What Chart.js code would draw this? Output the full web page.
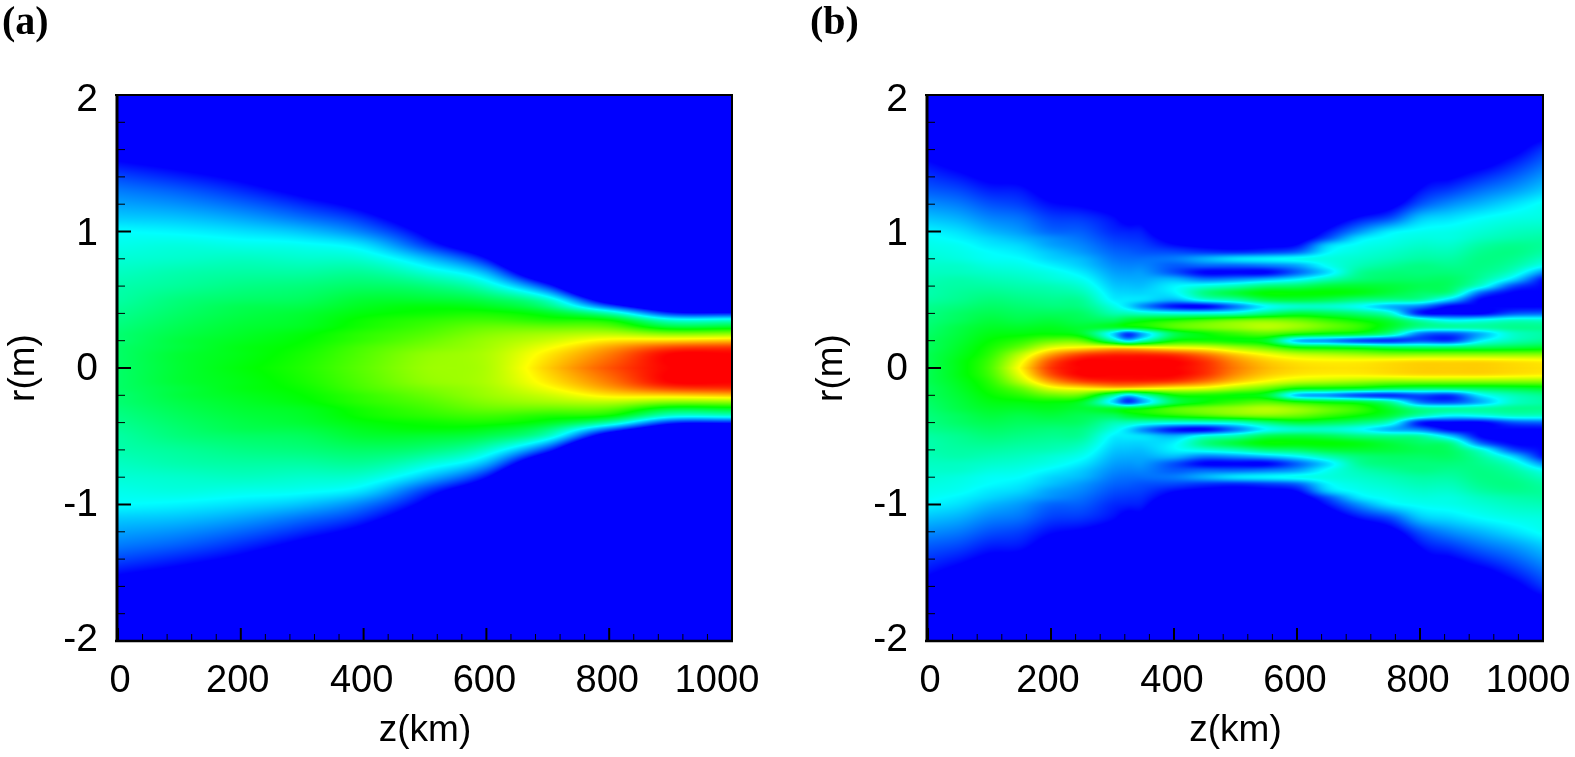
<!DOCTYPE html>
<html>
<head>
<meta charset="utf-8">
<script src="https://cdn.jsdelivr.net/npm/chart.js@4"></script>
<style>
html,body{margin:0;padding:0;background:#fff;width:1575px;height:757px;overflow:hidden}
.p{position:absolute;top:0;height:757px}
</style>
</head>
<body>
<div class="p" style="left:0;width:787px"><canvas id="ca" width="787" height="757"></canvas></div>
<div class="p" style="left:808px;width:767px"><canvas id="cb" width="767" height="757"></canvas></div>
<script>
// ---- axis ticks ----
const xTicks = [0,200,400,600,800,1000];
const yTicks = [-2,-1,0,1,2];
const xMinor = [40,80,120,160,240,280,320,360,440,480,520,560,640,680,720,760,840,880,920,960];
const yMinor = [-1.8,-1.6,-1.4,-1.2,-0.8,-0.6,-0.4,-0.2,0.2,0.4,0.6,0.8,1.2,1.4,1.6,1.8];

// ---- colour stops of the scale (value, r, g, b) ----
const colorStops = [[0,0,0,255],[25,0,255,255],[50,0,255,0],[75,255,255,0],[100,255,0,0]];

// ---- panel (a): level; one list per z, entries follow rRowsA.
// Entries below 0 lie past the visible edge and all show as full blue; missing entries are far past it.
const zColsA = [0,100,200,300,400,500,600,700,800,900,1000];
const rRowsA = [0,.1,.15,.2,.25,.3,.35,.4,.45,.5,.6,.7,.8,.9,1,1.1,1.2,1.3,1.4,1.5,1.6];
const valuesA = [
 [40,40,40,39,39,38,37,36,35,34,33,31,29,27,25,20,16,12,7,1,-5],
 [45,45,44,44,43,42,41,40,39,38,35,33,30,28,24,19,14,9,3,-3,-9],
 [49,48,48,47,46,45,44,43,42,40,37,34,31,27,22,16,10,4,-2,-8,-14],
 [53,52,51,50,49,47,46,45,43,41,38,34,30,26,19,11,4,-3,-10,-17,-24],
 [59,58,57,55,54,52,51,49,47,45,40,35,29,22,12,4,-4,-12,-20,-28,-36],
 [65,64,62,60,58,56,54,51,49,45,38,29,19,6,-3,-12,-21,-30,-39],
 [67,67,66,65,63,60,56,52,47,42,30,17,1,-14,-29],
 [80,77,74,70,66,60,53,47,38,30,5,-20],
 [92,88,84,77,68,59,50,33,10,-10,-40],
 [100,100,93,79,63,45,29,5,-15,-35],
 [100,100,95,81,64,46,29,3,-17,-37]
];

// ---- panel (b) ----
const zColsB = [0,50,100,150,200,250,300,325,350,400,450,500,550,600,650,700,750,800,850,900,950,1000];
const rRowsB = [0,.05,.1,.15,.2,.25,.3,.35,.4,.45,.5,.55,.6,.65,.7,.75,.8,.85,.9,.95,1,1.1,1.2,1.3,1.4,1.5,1.6,1.7];
const valuesB = [
 [42,42,42,41,41,40,39,38,37,36,34,33,33,32,31,30,29,28,27,26,24,19,14,9,5,1,-4,-9],
 [48,48,47,46,45,44,43,41,40,38,36,35,34,33,31,30,28,27,26,24,22,17,12,7,2,-3,-8,-13],
 [57,56,54,52,50,48,46,44,42,40,38,36,34,32,30,28,26,25,23,21,18,13,8,3,-2,-7,-12,-17],
 [76,73,68,60,54,49,46,43,41,39,37,35,33,31,29,27,25,23,21,18,15,11,6,2,-3,-8,-13,-18],
 [95,92,84,72,60,50,47,44,41,38,36,34,32,29,27,24,21,19,16,14,10,6,1,-4,-9,-14,-19],
 [100,100,93,76,59,46,45,42,40,37,35,32,29,26,23,20,18,15,13,11,9,5,-1,-6,-11,-16,-21],
 [100,100,96,78,36,22,46,41,33,28,24,22,20,18,16,14,12,10,8,6,4,1,-5,-11,-17,-23],
 [100,100,96,77,22,6,48,45,32,22,23,21,19,17,15,13,11,9,7,5,3,-3,-8,-13,-18],
 [100,100,96,76,32,18,50,48,30,14,22,21,19,17,15,13,11,8,6,4,2,-3,-8,-13,-18],
 [100,100,94,74,50,42,58,52,28,2,18,24,24,18,8,9,12,7,1,-4,-10,-20,-30],
 [96,95,88,72,52,50,62,56,28,0,28,37,28,12,0,10,17,5,-2,-8,-14,-24,-34],
 [88,86,80,66,50,55,65,60,30,12,33,44,32,14,0,10,22,4,-3,-9,-15,-25,-35],
 [82,80,74,60,46,58,68,62,38,25,42,50,38,18,0,12,24,6,-2,-8,-14,-24,-34],
 [79,77,69,50,20,52,65,60,44,30,44,50,40,24,10,16,26,10,1,-5,-10,-20,-30],
 [78,76,67,48,15,48,60,55,42,30,42,50,44,32,22,26,28,24,20,8,2,-8,-18,-28],
 [78,76,65,46,8,45,55,50,38,26,38,48,45,38,35,32,30,28,26,22,14,1,-10,-20],
 [79,77,63,42,5,35,46,44,30,18,36,44,44,40,38,35,32,30,28,26,23,7,-4,-15],
 [80,78,63,40,8,12,36,32,3,12,34,40,42,40,38,37,34,32,30,28,26,19,8,1,-6,-13],
 [80,78,63,40,6,8,34,24,0,0,20,36,40,40,38,36,34,32,30,28,27,22,14,6,-1,-8],
 [80,78,63,42,24,18,34,26,0,0,0,10,28,34,36,37,37,36,34,31,29,25,18,11,4,-3,-10],
 [79,77,63,44,32,30,36,30,8,0,0,0,8,22,30,34,36,37,36,33,31,27,22,15,9,3,-3,-9],
 [78,76,63,46,36,34,36,30,10,0,0,0,0,2,14,26,31,34,35,34,32,28,26,20,15,10,5,-2]
];

// small shifts of the tick labels, in pixels, as placed in the picture
const yLabelNudge = [-1,1,1,3,5];
const xLabelNudge = [2,-3,-2,-2,-2,-15];

function colorOf(v){
  v=Math.max(0,Math.min(100,v));
  for(let i=1;i<colorStops.length;i++){
    const a=colorStops[i-1],b=colorStops[i];
    if(v<=b[0]){const t=(v-a[0])/(b[0]-a[0]);return [a[1]+(b[1]-a[1])*t,a[2]+(b[2]-a[2])*t,a[3]+(b[3]-a[3])*t];}
  }
  return colorStops[4].slice(1);
}
function seg(arr,x){
  let i=0;
  while(i<arr.length-2&&x>arr[i+1])i++;
  return i;
}
// smooth drawing of the read-off table between its nodes (render only)
function herm(xs,fn,i,x){
  const n=xs.length,x0=xs[i],x1=xs[i+1],h=x1-x0;
  const t=Math.max(0,Math.min(1,(x-x0)/h));
  const f0=fn(i),f1=fn(i+1);
  const m0=i>0?(f1-fn(i-1))/(x1-xs[i-1]):(f1-f0)/h;
  const m1=i<n-2?(fn(i+2)-f0)/(xs[i+2]-x0):(f1-f0)/h;
  const t2=t*t,t3=t2*t;
  return (2*t3-3*t2+1)*f0+(t3-2*t2+t)*h*m0+(-2*t3+3*t2)*f1+(t3-t2)*h*m1;
}

const heatPlugin={
  id:'heat',
  beforeDatasetsDraw(chart,args,opts){
    const {ctx,chartArea:ca,scales:{x,y}}=chart;
    const w=Math.round(ca.right-ca.left),h=Math.round(ca.bottom-ca.top);
    const off=document.createElement('canvas');off.width=w;off.height=h;
    const oc=off.getContext('2d'),img=oc.createImageData(w,h);
    const {zs,rs,vals}=opts;
    for(let py=0;py<h;py++){
      const r=Math.abs(y.getValueForPixel(ca.top+py+.5));
      const j=seg(rs,r);
      const col=zs.map((_,i)=>herm(rs,q=>vals[i][q]??-40,j,r));
      for(let px=0;px<w;px++){
        const z=x.getValueForPixel(ca.left+px+.5);
        const v=herm(zs,q=>col[q],seg(zs,z),z);
        const c=colorOf(v),k=(py*w+px)*4;
        img.data[k]=c[0];img.data[k+1]=c[1];img.data[k+2]=c[2];img.data[k+3]=255;
      }
    }
    oc.putImageData(img,0,0);
    ctx.save();
    ctx.filter='blur(0.7px)';
    ctx.drawImage(off,ca.left,ca.top);
    ctx.restore();
  },
  afterDraw(chart){
    const {ctx,chartArea:ca,scales:{x,y}}=chart;
    ctx.save();
    ctx.strokeStyle='#000';
    const line=(a,b,c,d,lw)=>{ctx.lineWidth=lw;ctx.beginPath();ctx.moveTo(a,b);ctx.lineTo(c,d);ctx.stroke();};
    xTicks.forEach(v=>{const p=x.getPixelForValue(v);line(p,ca.bottom,p,ca.bottom-13,2);});
    xMinor.forEach(v=>{const p=x.getPixelForValue(v);line(p,ca.bottom,p,ca.bottom-7,1);});
    yTicks.forEach(v=>{const p=y.getPixelForValue(v);line(ca.left,p,ca.left+13,p,2);});
    yMinor.forEach(v=>{const p=y.getPixelForValue(v);line(ca.left,p,ca.left+7,p,1);});
    line(ca.left-3,ca.top,ca.right+1,ca.top,2);
    line(ca.left-3,ca.bottom,ca.right+1,ca.bottom,2.5);
    line(ca.left-1,ca.top-1,ca.left-1,ca.bottom+1,3);
    line(ca.right,ca.top-1,ca.right,ca.bottom+1,2);
    ctx.restore();
  }
};

function points(zs,rs,vals){
  const out=[];
  zs.forEach((z,i)=>rs.forEach((r,j)=>{
    const v=Math.max(0,vals[i][j]||0);
    out.push({x:z,y:r,v});
    if(r>0)out.push({x:z,y:-r,v});
  }));
  return out;
}

function nudgeLabels(s,dx,dy){
  if(s._nudged)return;
  s._nudged=true;
  const orig=s._computeLabelItems.bind(s);
  s._computeLabelItems=a=>{
    const items=orig(a);
    items.forEach((t,i)=>{const q=t.options.translation;t.options.translation=[q[0]+(dx?dx[i]:0),q[1]+(dy?dy[i]:0)];});
    return items;
  };
}

function make(id,label,zs,rs,vals,leftW,rightPad){
  new Chart(document.getElementById(id),{
    type:'scatter',
    data:{datasets:[{label,data:points(zs,rs,vals),pointRadius:0,pointHoverRadius:0,showLine:false}]},
    plugins:[heatPlugin],
    options:{
      responsive:false,animation:false,events:[],
      layout:{padding:{left:2,top:0,right:rightPad,bottom:0}},
      plugins:{
        legend:{display:false},tooltip:{enabled:false},
        title:{display:true,text:label,align:'start',color:'#000',
          font:{family:'"Liberation Serif"',size:40,weight:'bold',lineHeight:1.1},
          padding:{top:2,bottom:49}},
        heat:{zs,rs,vals}
      },
      scales:{
        x:{type:'linear',min:0,max:1000,
          afterBuildTicks(s){s.ticks=xTicks.map(v=>({value:v}));},
          afterFit(s){s.height=116;s.paddingLeft=0;s.paddingRight=0;nudgeLabels(s,xLabelNudge,null);},
          grid:{display:false},border:{display:false},
          ticks:{color:'#000',maxRotation:0,autoSkip:false,padding:10,callback:v=>String(v),font:{family:'"Liberation Sans"',size:38}},
          title:{display:true,text:'z(km)',color:'#000',padding:{top:0,bottom:4},font:{family:'"Liberation Sans"',size:37}}},
        y:{type:'linear',min:-2,max:2,
          afterBuildTicks(s){s.ticks=yTicks.map(v=>({value:v}));},
          afterFit(s){s.width=leftW;s.paddingTop=0;s.paddingBottom=0;nudgeLabels(s,null,yLabelNudge);},
          grid:{display:false},border:{display:false},
          ticks:{color:'#000',autoSkip:false,padding:12,callback:v=>String(v),font:{family:'"Liberation Sans"',size:39}},
          title:{display:true,text:'r(m)',color:'#000',padding:{top:0,bottom:0},font:{family:'"Liberation Sans"',size:37}}}
      }
    }
  });
}
make('ca','(a)',zColsA,rRowsA,valuesA,116,55);
make('cb','(b)',zColsB,rRowsB,valuesB,118,32);
</script>
</body>
</html>
